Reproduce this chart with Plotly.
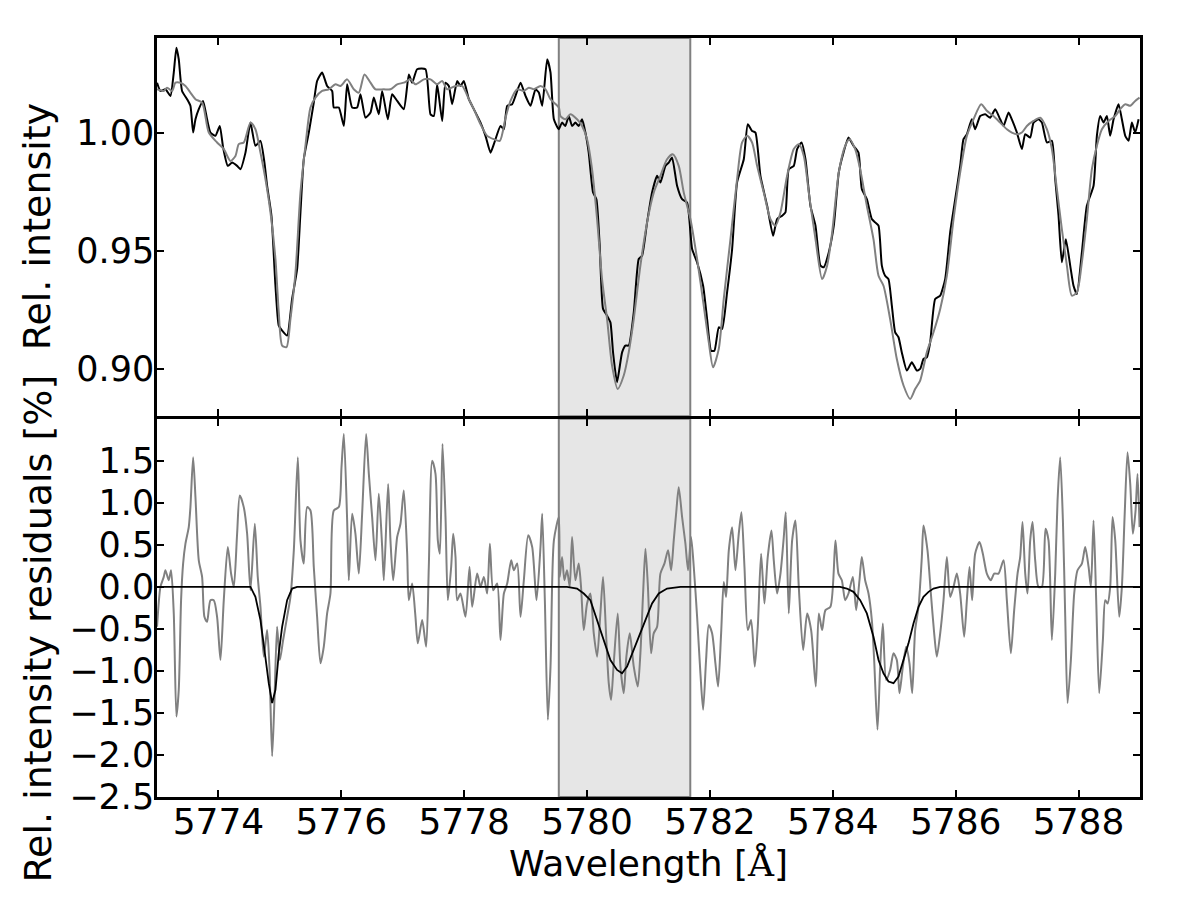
import plotly.graph_objects as go

# ---------------- data ----------------
obs_wl = [5773.001, 5773.056, 5773.137, 5773.219, 5773.273, 5773.316, 5773.354, 5773.408, 5773.490, 5773.544,
          5773.588, 5773.626, 5773.680, 5773.750, 5773.815, 5773.870, 5773.951, 5774.022, 5774.076, 5774.152,
          5774.223, 5774.304, 5774.358, 5774.440, 5774.521, 5774.602, 5774.684, 5774.749, 5774.792, 5774.863,
          5774.928, 5774.982, 5775.037, 5775.118, 5775.199, 5775.281, 5775.335, 5775.389, 5775.471, 5775.552,
          5775.606, 5775.688, 5775.769, 5775.851, 5775.878, 5775.959, 5776.041, 5776.095, 5776.176, 5776.258,
          5776.312, 5776.393, 5776.475, 5776.529, 5776.610, 5776.665, 5776.757, 5776.827, 5776.909, 5777.017,
          5777.099, 5777.153, 5777.234, 5777.370, 5777.452, 5777.506, 5777.560, 5777.642, 5777.696, 5777.750,
          5777.804, 5777.886, 5777.940, 5777.994, 5778.076, 5778.157, 5778.266, 5778.347, 5778.428, 5778.483,
          5778.591, 5778.646, 5778.700, 5778.781, 5778.835, 5778.917, 5778.998, 5779.080, 5779.161, 5779.215,
          5779.270, 5779.351, 5779.405, 5779.460, 5779.539, 5779.593, 5779.647, 5779.702, 5779.756, 5779.810,
          5779.864, 5779.919, 5779.973, 5780.027, 5780.098, 5780.152, 5780.206, 5780.260, 5780.326, 5780.380,
          5780.423, 5780.488, 5780.570, 5780.624, 5780.678, 5780.760, 5780.841, 5780.895, 5780.977, 5781.058,
          5781.140, 5781.194, 5781.275, 5781.330, 5781.384, 5781.465, 5781.547, 5781.628, 5781.710, 5781.791,
          5781.889, 5781.954, 5782.019, 5782.073, 5782.144, 5782.198, 5782.279, 5782.361, 5782.442, 5782.551,
          5782.616, 5782.686, 5782.741, 5782.822, 5782.931, 5783.028, 5783.093, 5783.175, 5783.229, 5783.283,
          5783.365, 5783.419, 5783.490, 5783.555, 5783.636, 5783.718, 5783.799, 5783.853, 5783.934, 5784.016,
          5784.097, 5784.174, 5784.255, 5784.336, 5784.418, 5784.472, 5784.554, 5784.635, 5784.689, 5784.744,
          5784.798, 5784.852, 5784.906, 5784.961, 5785.015, 5785.069, 5785.123, 5785.205, 5785.286, 5785.368,
          5785.422, 5785.476, 5785.530, 5785.585, 5785.666, 5785.748, 5785.829, 5785.910, 5785.992, 5786.073,
          5786.127, 5786.182, 5786.263, 5786.317, 5786.399, 5786.480, 5786.562, 5786.643, 5786.724, 5786.779,
          5786.860, 5786.914, 5786.996, 5787.077, 5787.132, 5787.213, 5787.267, 5787.348, 5787.403, 5787.484,
          5787.566, 5787.620, 5787.674, 5787.728, 5787.793, 5787.864, 5787.918, 5787.973, 5788.054, 5788.135,
          5788.244, 5788.298, 5788.352, 5788.407, 5788.461, 5788.515, 5788.570, 5788.651, 5788.705, 5788.760,
          5788.814, 5788.868, 5788.922, 5788.977]
obs_flux = [1.0211, 1.0176, 1.0183, 1.0155, 1.0254, 1.0359, 1.0310, 1.0176, 1.0141, 1.0113,
            1.0000, 1.0056, 1.0099, 1.0134, 1.0056, 1.0000, 0.9986, 1.0028, 0.9937, 0.9859,
            0.9873, 0.9859, 0.9845, 0.9915, 1.0042, 0.9944, 0.9965, 0.9873, 0.9775, 0.9648,
            0.9352, 0.9183, 0.9162, 0.9141, 0.9296, 0.9423, 0.9662, 0.9887, 1.0000, 1.0127,
            1.0218, 1.0254, 1.0197, 1.0176, 1.0106, 1.0106, 1.0028, 1.0204, 1.0106, 1.0106,
            1.0162, 1.0063, 1.0085, 1.0148, 1.0077, 1.0176, 1.0056, 1.0162, 1.0134, 1.0099,
            1.0246, 1.0211, 1.0268, 1.0268, 1.0077, 1.0070, 1.0204, 1.0049, 1.0211, 1.0197,
            1.0120, 1.0218, 1.0197, 1.0218, 1.0141, 1.0099, 1.0042, 0.9986, 0.9915, 0.9951,
            1.0028, 1.0014, 1.0113, 1.0120, 1.0155, 1.0211, 1.0155, 1.0113, 1.0183, 1.0169,
            1.0113, 1.0310, 1.0254, 1.0056, 1.0014, 1.0042, 1.0028, 1.0070, 1.0028, 1.0042,
            1.0028, 1.0056, 1.0000, 0.9915, 0.9746, 0.9718, 0.9521, 0.9254, 0.9225, 0.9197,
            0.9070, 0.8944, 0.9070, 0.9099, 0.9099, 0.9239, 0.9465, 0.9479, 0.9620, 0.9746,
            0.9817, 0.9789, 0.9859, 0.9873, 0.9894, 0.9775, 0.9718, 0.9704, 0.9507, 0.9451,
            0.9352, 0.9211, 0.9077, 0.9077, 0.9176, 0.9169, 0.9324, 0.9507, 0.9789, 0.9887,
            1.0035, 1.0007, 1.0000, 0.9817, 0.9690, 0.9563, 0.9634, 0.9648, 0.9662, 0.9845,
            0.9859, 0.9930, 0.9958, 0.9887, 0.9690, 0.9606, 0.9437, 0.9430, 0.9493, 0.9606,
            0.9831, 0.9915, 0.9979, 0.9944, 0.9915, 0.9761, 0.9718, 0.9634, 0.9620, 0.9606,
            0.9437, 0.9394, 0.9380, 0.9268, 0.9155, 0.9134, 0.9070, 0.8993, 0.9028, 0.8993,
            0.9000, 0.9042, 0.9049, 0.9113, 0.9296, 0.9310, 0.9380, 0.9577, 0.9718, 0.9859,
            0.9972, 0.9993, 1.0056, 1.0014, 1.0070, 1.0077, 1.0063, 1.0099, 1.0056, 1.0028,
            1.0085, 1.0056, 1.0000, 0.9930, 0.9993, 0.9979, 1.0042, 1.0056, 1.0042, 0.9958,
            0.9965, 0.9803, 0.9648, 0.9451, 0.9549, 0.9437, 0.9352, 0.9317, 0.9493, 0.9690,
            0.9775, 0.9986, 1.0070, 1.0042, 1.0070, 0.9986, 1.0056, 1.0120, 1.0056, 0.9986,
            0.9965, 1.0042, 1.0000, 1.0056]

model_wl = [5773.001, 5773.110, 5773.164, 5773.246, 5773.300, 5773.381, 5773.463, 5773.544, 5773.626, 5773.734,
            5773.843, 5773.978, 5774.087, 5774.195, 5774.277, 5774.331, 5774.412, 5774.521, 5774.602, 5774.684,
            5774.765, 5774.847, 5774.928, 5774.982, 5775.037, 5775.107, 5775.172, 5775.254, 5775.335, 5775.416,
            5775.498, 5775.579, 5775.688, 5775.796, 5775.905, 5775.986, 5776.095, 5776.203, 5776.285, 5776.377,
            5776.475, 5776.556, 5776.692, 5776.800, 5776.909, 5777.017, 5777.126, 5777.207, 5777.343, 5777.452,
            5777.560, 5777.642, 5777.723, 5777.859, 5777.967, 5778.076, 5778.157, 5778.266, 5778.374, 5778.483,
            5778.580, 5778.673, 5778.754, 5778.863, 5778.971, 5779.053, 5779.134, 5779.242, 5779.324, 5779.405,
            5779.541, 5779.566, 5779.647, 5779.729, 5779.837, 5779.919, 5780.000, 5780.081, 5780.163, 5780.244,
            5780.326, 5780.407, 5780.499, 5780.597, 5780.678, 5780.760, 5780.868, 5780.977, 5781.085, 5781.194,
            5781.302, 5781.395, 5781.492, 5781.574, 5781.682, 5781.791, 5781.899, 5781.981, 5782.051, 5782.144,
            5782.225, 5782.334, 5782.442, 5782.524, 5782.605, 5782.686, 5782.768, 5782.876, 5782.985, 5783.066,
            5783.148, 5783.256, 5783.365, 5783.446, 5783.528, 5783.609, 5783.718, 5783.826, 5783.907, 5783.989,
            5784.097, 5784.201, 5784.271, 5784.364, 5784.445, 5784.554, 5784.662, 5784.744, 5784.825, 5784.933,
            5785.042, 5785.151, 5785.259, 5785.340, 5785.422, 5785.530, 5785.639, 5785.748, 5785.856, 5785.965,
            5786.073, 5786.182, 5786.290, 5786.415, 5786.507, 5786.616, 5786.724, 5786.833, 5786.914, 5786.996,
            5787.077, 5787.159, 5787.267, 5787.376, 5787.484, 5787.566, 5787.647, 5787.728, 5787.810, 5787.891,
            5787.973, 5788.054, 5788.135, 5788.217, 5788.298, 5788.380, 5788.488, 5788.597, 5788.678, 5788.760,
            5788.841, 5788.922, 5788.993]
model_flux = [1.0183, 1.0176, 1.0190, 1.0176, 1.0211, 1.0211, 1.0197, 1.0169, 1.0141, 1.0127,
              1.0000, 0.9958, 0.9930, 0.9880, 0.9901, 0.9951, 0.9958, 1.0042, 1.0014, 0.9915,
              0.9803, 0.9662, 0.9465, 0.9239, 0.9099, 0.9092, 0.9211, 0.9408, 0.9746, 0.9944,
              1.0106, 1.0148, 1.0176, 1.0183, 1.0204, 1.0197, 1.0225, 1.0183, 1.0169, 1.0246,
              1.0211, 1.0183, 1.0183, 1.0183, 1.0204, 1.0211, 1.0225, 1.0204, 1.0225, 1.0225,
              1.0204, 1.0218, 1.0183, 1.0197, 1.0197, 1.0141, 1.0099, 1.0035, 0.9986, 0.9972,
              0.9965, 1.0063, 1.0134, 1.0183, 1.0176, 1.0190, 1.0183, 1.0197, 1.0183, 1.0141,
              1.0106, 1.0070, 1.0056, 1.0077, 1.0056, 1.0028, 0.9972, 0.9845, 0.9634, 0.9380,
              0.9211, 0.9014, 0.8915, 0.8972, 0.9070, 0.9211, 0.9437, 0.9620, 0.9746, 0.9817,
              0.9887, 0.9908, 0.9859, 0.9746, 0.9634, 0.9465, 0.9268, 0.9113, 0.9007, 0.9085,
              0.9296, 0.9549, 0.9803, 0.9958, 0.9986, 0.9958, 0.9859, 0.9746, 0.9634, 0.9606,
              0.9662, 0.9817, 0.9930, 0.9951, 0.9901, 0.9746, 0.9549, 0.9380, 0.9437, 0.9577,
              0.9831, 0.9944, 0.9972, 0.9930, 0.9845, 0.9690, 0.9549, 0.9394, 0.9352, 0.9211,
              0.9042, 0.8930, 0.8873, 0.8915, 0.8951, 0.9070, 0.9155, 0.9254, 0.9394, 0.9634,
              0.9831, 0.9986, 1.0056, 1.0120, 1.0092, 1.0070, 1.0042, 1.0014, 1.0000, 0.9993,
              1.0000, 1.0028, 1.0049, 1.0063, 1.0014, 0.9930, 0.9761, 0.9592, 0.9437, 0.9310,
              0.9324, 0.9451, 0.9634, 0.9845, 0.9944, 1.0014, 1.0049, 1.0070, 1.0099, 1.0120,
              1.0113, 1.0134, 1.0148]

resid_wl = [5773.001, 5773.056, 5773.110, 5773.137, 5773.191, 5773.229, 5773.273, 5773.316, 5773.354, 5773.392,
            5773.425, 5773.463, 5773.517, 5773.544, 5773.588, 5773.626, 5773.680, 5773.734, 5773.772, 5773.815,
            5773.870, 5773.924, 5773.978, 5774.033, 5774.087, 5774.152, 5774.206, 5774.250, 5774.304, 5774.347,
            5774.412, 5774.467, 5774.521, 5774.592, 5774.640, 5774.684, 5774.738, 5774.792, 5774.830, 5774.874,
            5774.912, 5774.955, 5774.999, 5775.053, 5775.118, 5775.172, 5775.227, 5775.292, 5775.335, 5775.389,
            5775.444, 5775.498, 5775.552, 5775.606, 5775.661, 5775.715, 5775.769, 5775.823, 5775.878, 5775.959,
            5776.003, 5776.041, 5776.095, 5776.122, 5776.176, 5776.230, 5776.285, 5776.339, 5776.404, 5776.448,
            5776.502, 5776.556, 5776.610, 5776.665, 5776.692, 5776.762, 5776.800, 5776.844, 5776.909, 5776.963,
            5777.017, 5777.072, 5777.099, 5777.153, 5777.207, 5777.245, 5777.316, 5777.381, 5777.424, 5777.479,
            5777.533, 5777.571, 5777.604, 5777.647, 5777.696, 5777.734, 5777.788, 5777.821, 5777.859, 5777.886,
            5777.940, 5778.021, 5778.087, 5778.130, 5778.211, 5778.266, 5778.320, 5778.374, 5778.418, 5778.472,
            5778.537, 5778.591, 5778.646, 5778.700, 5778.765, 5778.808, 5778.863, 5778.917, 5778.971, 5779.042,
            5779.107, 5779.177, 5779.242, 5779.270, 5779.313, 5779.362, 5779.405, 5779.460, 5779.541, 5779.555,
            5779.593, 5779.631, 5779.674, 5779.718, 5779.756, 5779.810, 5779.864, 5779.902, 5779.946, 5780.000,
            5780.054, 5780.109, 5780.163, 5780.217, 5780.260, 5780.309, 5780.353, 5780.391, 5780.434, 5780.499,
            5780.543, 5780.597, 5780.640, 5780.695, 5780.760, 5780.825, 5780.868, 5780.912, 5780.950, 5780.988,
            5781.042, 5781.085, 5781.140, 5781.194, 5781.259, 5781.319, 5781.368, 5781.411, 5781.454, 5781.492,
            5781.547, 5781.601, 5781.644, 5781.693, 5781.737, 5781.791, 5781.845, 5781.889, 5781.937, 5781.981,
            5782.035, 5782.089, 5782.133, 5782.182, 5782.225, 5782.263, 5782.307, 5782.361, 5782.415, 5782.469,
            5782.513, 5782.562, 5782.616, 5782.670, 5782.730, 5782.779, 5782.833, 5782.887, 5782.941, 5783.001,
            5783.039, 5783.093, 5783.148, 5783.202, 5783.234, 5783.283, 5783.338, 5783.392, 5783.446, 5783.517,
            5783.582, 5783.647, 5783.723, 5783.772, 5783.826, 5783.880, 5783.961, 5784.043, 5784.092, 5784.147,
            5784.201, 5784.255, 5784.326, 5784.380, 5784.434, 5784.472, 5784.526, 5784.581, 5784.635, 5784.673,
            5784.727, 5784.771, 5784.814, 5784.868, 5784.933, 5784.988, 5785.042, 5785.085, 5785.140, 5785.194,
            5785.248, 5785.292, 5785.340, 5785.395, 5785.449, 5785.476, 5785.541, 5785.596, 5785.650, 5785.693,
            5785.748, 5785.802, 5785.856, 5785.910, 5785.965, 5786.019, 5786.073, 5786.138, 5786.182, 5786.225,
            5786.268, 5786.317, 5786.388, 5786.442, 5786.507, 5786.572, 5786.627, 5786.697, 5786.779, 5786.833,
            5786.898, 5786.952, 5787.007, 5787.050, 5787.088, 5787.132, 5787.169, 5787.213, 5787.251, 5787.294,
            5787.348, 5787.403, 5787.462, 5787.511, 5787.566, 5787.620, 5787.658, 5787.701, 5787.745, 5787.783,
            5787.821, 5787.875, 5787.929, 5787.983, 5788.054, 5788.108, 5788.163, 5788.201, 5788.244, 5788.287,
            5788.336, 5788.396, 5788.434, 5788.472, 5788.515, 5788.553, 5788.597, 5788.662, 5788.705, 5788.749,
            5788.797, 5788.841, 5788.884, 5788.928, 5788.960, 5788.993]
resid_val = [-0.474, 0.000, 0.119, 0.198, 0.079, 0.198, -0.316, -1.542, -1.225, -0.158,
             0.277, 0.514, 0.711, 0.949, 1.541, 1.067, 0.316, 0.119, -0.356, -0.415,
             -0.158, -0.158, -0.356, -0.870, -0.158, 0.474, 0.158, 0.000, 0.632, 1.087,
             0.949, 0.632, -0.040, 0.751, 0.119, -0.237, -0.830, -0.514, -0.949, -2.016,
             -1.344, -0.474, -0.870, -0.632, -0.356, -0.119, 0.435, 1.541, 0.553, 0.277,
             0.949, 0.909, 0.237, -0.356, -0.909, -0.711, -0.316, -0.079, 0.909, 0.949,
             1.423, 1.818, 0.791, 0.079, 0.870, 0.632, 0.158, 0.870, 1.818, 1.344,
             0.830, 0.316, 1.107, 0.474, 0.079, 1.225, 0.553, 0.079, 0.593, 0.751,
             1.146, 0.395, -0.158, 0.040, -0.356, -0.672, -0.395, -0.711, 0.237, 1.502,
             1.344, 0.553, 0.395, 1.700, 0.830, -0.158, 0.237, 0.632, 0.356, -0.158,
             -0.079, -0.356, 0.237, -0.237, 0.158, 0.000, 0.119, -0.079, 0.514, -0.040,
             0.040, -0.632, -0.079, 0.040, 0.316, 0.198, 0.277, -0.356, 0.079, 0.613,
             0.474, -0.158, 0.474, 0.870, -0.158, -1.581, -0.949, 0.553, 0.830, 0.119,
             0.356, 0.079, 0.198, 0.000, 0.593, 0.079, 0.277, 0.000, -0.514, -0.198,
             -0.079, -0.553, -0.830, -0.316, 0.119, -0.553, -1.146, -1.344, -0.909, -0.316,
             -0.949, -1.265, -0.830, -0.553, -0.949, -1.186, -0.791, -0.079, 0.455, 0.040,
             -0.791, -0.553, -0.474, 0.158, 0.277, 0.435, 0.198, 0.553, 0.909, 1.186,
             0.830, 0.514, 0.198, 0.593, 0.237, -0.356, -1.028, -1.462, -0.870, -0.455,
             -0.553, -0.909, -1.186, -0.553, 0.059, -0.119, 0.435, 0.711, 0.198, 0.632,
             0.889, 0.237, -0.514, -0.395, -0.949, -0.474, 0.395, -0.198, 0.356, 0.672,
             0.316, -0.079, 0.158, 0.593, 0.889, -0.316, 0.553, 0.791, 0.000, -0.751,
             -0.316, -0.514, -1.186, -0.316, -0.514, -0.277, -0.237, 0.553, 0.158, 0.079,
             -0.158, -0.079, 0.119, -0.277, 0.079, 0.356, 0.079, -0.079, -0.395, -0.870,
             -1.700, -0.949, -0.435, -1.107, -0.988, -0.791, -0.870, -1.265, -0.949, -0.711,
             -0.909, -1.265, -0.514, -0.237, 0.356, 0.731, 0.435, -0.079, -0.553, -0.830,
             -0.553, -0.158, 0.356, -0.119, 0.000, 0.158, -0.079, -0.593, -0.158, 0.237,
             -0.158, 0.395, 0.534, 0.395, 0.158, 0.079, 0.158, 0.158, 0.316, -0.158,
             -0.791, -0.277, 0.158, 0.356, 0.771, 0.158, -0.079, 0.553, 0.771, 0.316,
             0.000, 0.000, 0.692, 0.553, -0.632, 0.158, 1.028, 1.541, 0.791, -0.356,
             -1.383, -0.870, -0.079, 0.198, 0.277, 0.474, 0.237, 0.000, 0.791, -0.158,
             -1.265, -0.632, -0.158, -0.198, 0.000, 0.830, 0.553, -0.356, 0.000, 0.830,
             1.601, 1.225, 0.632, 0.909, 1.344, 0.711]

fit_wl = [5773.000, 5774.521, 5774.602, 5774.684, 5774.749, 5774.819, 5774.874, 5774.928, 5774.982, 5775.037,
          5775.118, 5775.199, 5775.281, 5779.674, 5779.837, 5779.946, 5780.054, 5780.163, 5780.271, 5780.380,
          5780.488, 5780.570, 5780.651, 5780.733, 5780.841, 5780.950, 5781.058, 5781.167, 5781.302, 5781.411,
          5781.520, 5784.119, 5784.228, 5784.336, 5784.445, 5784.554, 5784.662, 5784.744, 5784.825, 5784.906,
          5784.988, 5785.069, 5785.151, 5785.232, 5785.313, 5785.395, 5785.476, 5785.558, 5785.639, 5785.748,
          5789.000]
fit_val = [0.000, 0.000, -0.119, -0.395, -0.751, -1.146, -1.383, -1.225, -0.791, -0.474,
           -0.158, -0.020, 0.000, 0.000, -0.020, -0.079, -0.158, -0.395, -0.632, -0.870,
           -0.988, -1.028, -0.949, -0.791, -0.593, -0.395, -0.198, -0.079, -0.020, -0.008,
           0.000, 0.000, -0.020, -0.059, -0.158, -0.316, -0.593, -0.870, -1.028, -1.126,
           -1.146, -1.067, -0.870, -0.672, -0.435, -0.237, -0.119, -0.059, -0.020, 0.000,
           0.000]

band_edges = [5779.54, 5781.68]
x_ticks = [5774, 5776, 5778, 5780, 5782, 5784, 5786, 5788]
top_ticks = [0.90, 0.95, 1.00]
top_tick_text = ["0.90", "0.95", "1.00"]
bot_ticks = [-2.5, -2.0, -1.5, -1.0, -0.5, 0.0, 0.5, 1.0, 1.5]
bot_tick_text = ["\u22122.5", "\u22122.0", "\u22121.5", "\u22121.0", "\u22120.5", "0.0", "0.5", "1.0", "1.5"]

GREY = "#808080"
FONT = "DejaVu Sans, Verdana, sans-serif"
LW = 2.5
GAP = 0.0017

fig = go.Figure()

fig.add_trace(go.Scatter(x=obs_wl, y=obs_flux, mode="lines", xaxis="x", yaxis="y",
                         line=dict(color="black", width=2, shape="spline", smoothing=0.5)))
fig.add_trace(go.Scatter(x=model_wl, y=model_flux, mode="lines", xaxis="x", yaxis="y",
                         line=dict(color=GREY, width=2, shape="spline", smoothing=0.7)))
fig.add_trace(go.Scatter(x=resid_wl, y=resid_val, mode="lines", xaxis="x2", yaxis="y2",
                         line=dict(color=GREY, width=2, shape="spline", smoothing=0.7)))
fig.add_trace(go.Scatter(x=fit_wl, y=fit_val, mode="lines", xaxis="x2", yaxis="y2",
                         line=dict(color="black", width=1.8)))

for xr, yr in [("x", "y domain"), ("x2", "y2 domain")]:
    fig.add_shape(type="rect", xref=xr, yref=yr, x0=band_edges[0], x1=band_edges[1], y0=0, y1=1,
                  fillcolor="#e6e6e6", line=dict(color=GREY, width=2), layer="below")

axis_common = dict(showline=True, linecolor="black", linewidth=LW, mirror="ticks", ticks="inside",
                   ticklen=7, tickwidth=1.5, tickcolor="black", showgrid=False, zeroline=False)

fig.update_layout(
    xaxis=dict(**axis_common, range=[5773, 5789], tickvals=x_ticks, showticklabels=False,
               anchor="y", domain=[0, 1], matches="x2"),
    xaxis2=dict(**axis_common, range=[5773, 5789], tickvals=x_ticks, anchor="y2", domain=[0, 1],
                tickfont=dict(family=FONT, size=36, color="black"), ticklabelstandoff=-9),
    yaxis=dict(**axis_common, range=[0.88, 1.04], tickvals=top_ticks, ticktext=top_tick_text,
               domain=[0.5 + GAP, 1], anchor="x",
               tickfont=dict(family=FONT, size=35, color="black"), ticklabelstandoff=-7),
    yaxis2=dict(**axis_common, range=[-2.5, 2.0], tickvals=bot_ticks, ticktext=bot_tick_text,
                domain=[0, 0.5 - GAP], anchor="x2",
                tickfont=dict(family=FONT, size=35, color="black"), ticklabelstandoff=-7),
)

fig.add_annotation(text="Wavelength [<span style='font-family:DejaVu Serif'>Å</span>]",
                   xref="paper", yref="paper", x=0.5, y=-0.058, yanchor="top", showarrow=False,
                   font=dict(family=FONT, size=36, color="black"))
fig.add_annotation(text="Rel. intensity", xref="paper", yref="paper", x=-0.122, y=0.752,
                   xanchor="center", yanchor="middle", textangle=-90, showarrow=False,
                   font=dict(family=FONT, size=38, color="black"))
fig.add_annotation(text="Rel. intensity residuals [%]", xref="paper", yref="paper", x=-0.122, y=0.222,
                   xanchor="center", yanchor="middle", textangle=-90, showarrow=False,
                   font=dict(family=FONT, size=38, color="black"))

fig.update_layout(width=1184, height=893, margin=dict(l=149, r=52, t=30, b=104),
                  plot_bgcolor="white", paper_bgcolor="white", showlegend=False)

fig.write_html("out.html")
